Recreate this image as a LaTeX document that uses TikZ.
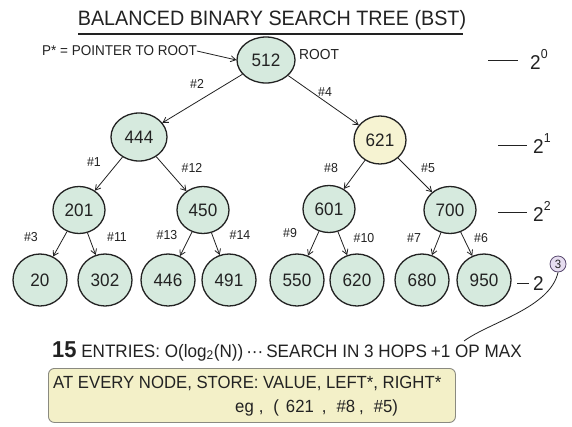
\documentclass[tikz,border=0pt]{standalone}
\usepackage{fontspec}
\setmainfont{Liberation Sans}[FakeStretch=0.95]
\usetikzlibrary{shapes.geometric,arrows.meta}
\definecolor{ink}{HTML}{222222}
\definecolor{mint}{HTML}{D6EADE}
\definecolor{cream}{HTML}{F6F3D2}
\definecolor{notefill}{HTML}{F3F0C8}
\definecolor{noteline}{HTML}{8A8A80}
\definecolor{lav}{HTML}{E6DDF0}
\definecolor{lavline}{HTML}{5A4A70}
\begin{document}
\begin{tikzpicture}[x=1pt,y=-1pt,
  bst/.style={ellipse, draw=ink, line width=1.3pt, fill=mint, inner sep=0pt,
    text=ink, font=\fontsize{18}{18}\selectfont},
  lvone/.style={bst, minimum width=56pt, minimum height=48pt},
  lvtwo/.style={bst, minimum width=52pt, minimum height=47pt},
  lvthree/.style={bst, minimum width=54pt, minimum height=52pt},
  link/.style={draw=ink, line width=0.8pt, -{Straight Barb[length=5pt,width=6pt]}},
  elabel/.style={text=ink, inner sep=0pt, font=\fontsize{13}{13}\selectfont},
  txt/.style={text=ink, inner sep=0pt},
  lvl/.style={text=ink, inner sep=0pt, font=\fontsize{20}{20}\selectfont},
  lvldash/.style={draw=ink, line width=0.8pt}
]
\useasboundingbox (0,0) rectangle (572,426);
\fill[white] (0,0) rectangle (572,426);

% title
\node[txt, font=\fontsize{20.8}{20.8}\selectfont] (title) at (272,20) {BALANCED BINARY SEARCH TREE (BST)};
\coordinate (ul1) at (78,34);
\coordinate (ul2) at (463,34);
\draw[ink, line width=1.2pt] (ul1) -- (ul2);

% nodes
\node[lvone, minimum width=58pt, minimum height=46pt] (n512) at (266,60) {512};
\node[lvone] (n444) at (139,137) {444};
\node[lvone, fill=cream, minimum width=52pt] (n621) at (380,140) {621};
\node[lvtwo] (n201) at (79,210) {201};
\node[lvtwo] (n450) at (203,210) {450};
\node[lvtwo] (n601) at (329,209) {601};
\node[lvtwo] (n700) at (450,210) {700};
\node[lvthree] (n20) at (40,280) {20};
\node[lvthree] (n302) at (105,280) {302};
\node[lvthree] (n446) at (168,280) {446};
\node[lvthree] (n491) at (229,280) {491};
\node[lvthree] (n550) at (297,280) {550};
\node[lvthree] (n620) at (357,280) {620};
\node[lvthree] (n680) at (422,280) {680};
\node[lvthree] (n950) at (484,280) {950};

% pointer to root
\node[txt, font=\fontsize{14.2}{14.2}\selectfont, anchor=west] (ptr) at (42,51) {P* = POINTER TO ROOT};
\draw[link] (ptr.east) -- (n512.west);
\node[txt, font=\fontsize{14.5}{14.5}\selectfont, anchor=west] (rootlbl) at (299,55) {ROOT};

% edges
\draw[link] (n512) -- (n444);
\draw[link] (n512) -- (n621);
\draw[link] (n444) -- (n201);
\draw[link] (n444) -- (n450);
\draw[link] (n621) -- (n601);
\draw[link] (n621) -- (n700);
\draw[link] (n201) -- (n20);
\draw[link] (n201) -- (n302);
\draw[link] (n450) -- (n446);
\draw[link] (n450) -- (n491);
\draw[link] (n601) -- (n550);
\draw[link] (n601) -- (n620);
\draw[link] (n700) -- (n680);
\draw[link] (n700) -- (n950);

% edge labels
\node[elabel] (e2) at (197,84) {\#2};
\node[elabel] (e4) at (325,92) {\#4};
\node[elabel] (e1) at (94,162) {\#1};
\node[elabel] (e12) at (192,168) {\#12};
\node[elabel] (e8) at (331,168) {\#8};
\node[elabel] (e5) at (428,168) {\#5};
\node[elabel] (e3) at (31,237) {\#3};
\node[elabel] (e11) at (117,237) {\#11};
\node[elabel] (e13) at (167,235) {\#13};
\node[elabel] (e14) at (240,235) {\#14};
\node[elabel] (e9) at (290,233) {\#9};
\node[elabel] (e10) at (364,238) {\#10};
\node[elabel] (e7) at (414,238) {\#7};
\node[elabel] (e6) at (481,238) {\#6};

% level markers
\coordinate (d0a) at (488,60); \coordinate (d0b) at (518,60);
\draw[lvldash] (d0a) -- (d0b);
\node[lvl, anchor=west] (l0) at (530,59) {2\raisebox{0.55em}{\fontsize{13}{13}\selectfont 0}};
\coordinate (d1a) at (498,145); \coordinate (d1b) at (527,145);
\draw[lvldash] (d1a) -- (d1b);
\node[lvl, anchor=west] (l1) at (533,144) {2\raisebox{0.55em}{\fontsize{13}{13}\selectfont 1}};
\coordinate (d2a) at (498,212); \coordinate (d2b) at (527,212);
\draw[lvldash] (d2a) -- (d2b);
\node[lvl, anchor=west] (l2) at (533,211) {2\raisebox{0.55em}{\fontsize{13}{13}\selectfont 2}};
\coordinate (d3a) at (517,283); \coordinate (d3b) at (529,283);
\draw[lvldash] (d3a) -- (d3b);
\node[lvl, anchor=west] (l3) at (533,284) {2};
\node[circle, draw=lavline, fill=lav, line width=0.8pt, inner sep=0pt, minimum size=16pt,
  text=ink, font=\fontsize{12}{12}\selectfont] (c3) at (558,264) {3};
\coordinate (hk) at (464,341);
\draw[ink, line width=0.8pt] (c3.south) .. controls (550,308) and (490,322) .. (hk);

% summary line
\node[txt, anchor=west, font=\fontsize{18}{18}\selectfont] (sum) at (52,351)
  {{\fontsize{23}{23}\selectfont\bfseries 15} ENTRIES: O(log\textsubscript{2}(N))\,···\,SEARCH IN 3 HOPS\hspace{4pt}+1 OP MAX};

% note box
\node[draw=noteline, fill=notefill, rounded corners=6pt, line width=0.9pt,
  minimum width=407pt, minimum height=54pt, anchor=north west, inner sep=0pt] (note) at (48,368) {};
\node[txt, anchor=west, font=\fontsize{17.6}{17.6}\selectfont] (n1) at (53,383)
  {AT EVERY NODE, STORE: VALUE, LEFT*, RIGHT*};
\node[txt, anchor=west, font=\fontsize{17.6}{17.6}\selectfont] (n2) at (235,408)
  {eg\hspace{5pt},\hspace{10pt}(\hspace{7pt}621\hspace{8pt},\hspace{10pt}\#8\hspace{4pt},\hspace{10pt}\#5)};
\end{tikzpicture}
\end{document}
